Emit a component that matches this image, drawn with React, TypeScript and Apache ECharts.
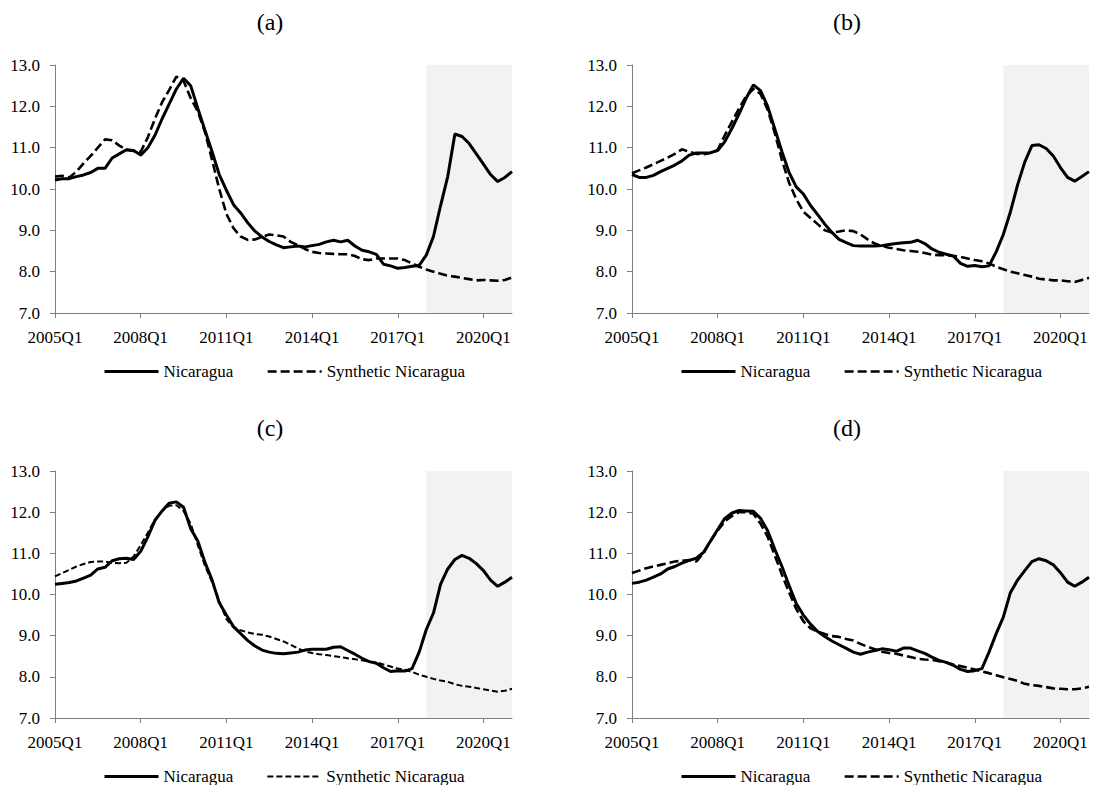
import React, { useEffect, useRef } from "react";
import * as echarts from "echarts";

// Quarter categories 2005Q1 .. 2021Q1
const QUARTERS: string[] = [];
for (let y = 2005; y <= 2021; y++) {
  for (let q = 1; q <= 4; q++) {
    if (y === 2021 && q > 1) break;
    QUARTERS.push(`${y}Q${q}`);
  }
}

const PANEL_TITLES = ["(a)", "(b)", "(c)", "(d)"];
const SHADE_FROM = "2018Q1";
const SHADE_TO = "2021Q1";
const Y_MIN = 7;
const Y_MAX = 13;

const nicA = [10.22, 10.25, 10.25, 10.3, 10.34, 10.4, 10.5, 10.5, 10.75, 10.85, 10.95, 10.93, 10.82, 11.0, 11.3, 11.7, 12.06, 12.42, 12.68, 12.5, 11.95, 11.42, 10.9, 10.35, 9.97, 9.62, 9.42, 9.18, 8.98, 8.84, 8.73, 8.65, 8.58, 8.6, 8.62, 8.6, 8.63, 8.66, 8.72, 8.76, 8.72, 8.76, 8.62, 8.52, 8.48, 8.42, 8.18, 8.14, 8.08, 8.1, 8.13, 8.15, 8.4, 8.85, 9.6, 10.3, 11.33, 11.27, 11.1, 10.85, 10.6, 10.35, 10.18, 10.28, 10.42];
const synA = [10.3, 10.32, 10.28, 10.42, 10.62, 10.8, 11.0, 11.2, 11.18, 11.05, 10.95, 10.92, 10.9, 11.25, 11.7, 12.1, 12.4, 12.72, 12.62, 12.2, 11.88, 11.38, 10.7, 10.0, 9.4, 9.05, 8.85, 8.77, 8.78, 8.84, 8.9, 8.88, 8.85, 8.72, 8.64, 8.55, 8.48, 8.45, 8.44, 8.43, 8.42, 8.42, 8.38, 8.3, 8.28, 8.32, 8.32, 8.32, 8.32, 8.28, 8.2, 8.12, 8.05, 8.0, 7.95, 7.9, 7.88, 7.85, 7.82, 7.79, 7.8, 7.79, 7.78, 7.8, 7.86];

const nicB = [10.35, 10.28, 10.28, 10.33, 10.42, 10.5, 10.58, 10.68, 10.82, 10.87, 10.87, 10.88, 10.93, 11.15, 11.47, 11.82, 12.2, 12.52, 12.38, 12.0, 11.45, 10.9, 10.4, 10.05, 9.88, 9.6, 9.38, 9.15, 8.95, 8.78, 8.7, 8.63, 8.62, 8.62, 8.62, 8.63, 8.66, 8.68, 8.7, 8.71, 8.76, 8.68, 8.55, 8.47, 8.42, 8.38, 8.2, 8.13, 8.15, 8.12, 8.14, 8.48, 8.9, 9.45, 10.1, 10.65, 11.05, 11.07, 10.98, 10.8, 10.52, 10.28, 10.19, 10.3, 10.42];
const synB = [10.38, 10.45, 10.52, 10.6, 10.68, 10.76, 10.85, 10.96, 10.9, 10.85, 10.84, 10.87, 10.95, 11.3, 11.63, 11.95, 12.25, 12.42, 12.3, 11.92, 11.35, 10.7, 10.15, 9.75, 9.45, 9.3, 9.15, 9.0, 8.95, 8.97, 9.0, 8.98, 8.9, 8.78, 8.68, 8.62, 8.58, 8.55, 8.52, 8.5, 8.48, 8.45, 8.41, 8.4, 8.4, 8.38, 8.36, 8.32, 8.28, 8.25, 8.2, 8.12, 8.06, 8.0, 7.96, 7.92, 7.88, 7.83, 7.81, 7.79, 7.79, 7.77, 7.75, 7.8, 7.85];

const nicC = [10.25, 10.27, 10.29, 10.33, 10.4, 10.47, 10.62, 10.66, 10.82, 10.87, 10.88, 10.85, 11.05, 11.4, 11.8, 12.03, 12.22, 12.25, 12.12, 11.6, 11.3, 10.78, 10.35, 9.8, 9.5, 9.22, 9.05, 8.88, 8.75, 8.65, 8.6, 8.57, 8.56, 8.58, 8.6, 8.65, 8.67, 8.67, 8.67, 8.72, 8.73, 8.64, 8.55, 8.45, 8.37, 8.33, 8.22, 8.13, 8.15, 8.14, 8.2, 8.6, 9.15, 9.55, 10.25, 10.62, 10.85, 10.95, 10.88, 10.75, 10.58, 10.35, 10.2, 10.3, 10.42];
const synC = [10.44, 10.52, 10.6, 10.68, 10.74, 10.79, 10.8, 10.8, 10.77, 10.76, 10.77, 10.92, 11.2, 11.5, 11.82, 12.03, 12.16, 12.17, 12.03, 11.72, 11.2, 10.7, 10.3, 9.85, 9.4, 9.2, 9.13, 9.08, 9.04, 9.02, 8.98, 8.92, 8.86, 8.78, 8.69, 8.62, 8.58, 8.55, 8.53, 8.5, 8.48, 8.45, 8.43, 8.4, 8.37, 8.35, 8.3, 8.25, 8.2, 8.17, 8.12, 8.05, 8.0, 7.95, 7.91, 7.88, 7.82, 7.78, 7.76, 7.73, 7.7, 7.67, 7.64, 7.66, 7.71];

const nicD = [10.27, 10.3, 10.35, 10.42, 10.5, 10.62, 10.68, 10.76, 10.83, 10.88, 11.02, 11.3, 11.58, 11.85, 11.98, 12.04, 12.03, 12.02, 11.85, 11.55, 11.1, 10.68, 10.22, 9.78, 9.5, 9.28, 9.1, 8.98, 8.87, 8.78, 8.69, 8.6, 8.55, 8.6, 8.64, 8.68, 8.66, 8.62, 8.7, 8.7, 8.63, 8.57, 8.48, 8.4, 8.35, 8.28, 8.18, 8.13, 8.15, 8.2, 8.6, 9.05, 9.45, 10.05, 10.35, 10.58, 10.8, 10.87, 10.82, 10.72, 10.53, 10.3, 10.2, 10.3, 10.42];
const synD = [10.52, 10.58, 10.64, 10.68, 10.72, 10.76, 10.8, 10.82, 10.84, 10.8, 11.0, 11.3, 11.55, 11.78, 11.91, 12.0, 12.0, 11.96, 11.72, 11.4, 10.95, 10.48, 10.05, 9.65, 9.35, 9.18, 9.1, 9.04, 8.99, 8.97, 8.92, 8.88, 8.8, 8.73, 8.67, 8.61, 8.58, 8.56, 8.52, 8.48, 8.44, 8.42, 8.41, 8.38, 8.35, 8.3, 8.26, 8.22, 8.18, 8.13, 8.09, 8.04, 7.99, 7.95, 7.9, 7.83, 7.8, 7.78, 7.75, 7.72, 7.71, 7.7, 7.7, 7.72, 7.76];

const ACTUAL = [nicA, nicB, nicC, nicD];
const SYNTH = [synA, synB, synC, synD];

const FONT = "Liberation Serif";

// layout of the four panels
const GRIDS = [
  { left: 55, top: 65, width: 457, height: 248 },
  { left: 632, top: 65, width: 457, height: 248 },
  { left: 55, top: 471, width: 457, height: 247 },
  { left: 632, top: 471, width: 457, height: 247 },
];
const DASH_STYLES = [
  { type: [9, 4], width: 2.6 },
  { type: [9, 4], width: 2.6 },
  { type: [6, 3], width: 2 },
  { type: [9, 4], width: 2.6 },
];

export default function App() {
  const ref = useRef<HTMLDivElement>(null);
  useEffect(() => {
    document.body.style.margin = "0";
    if (!ref.current) return;
    const chart = echarts.init(ref.current, undefined, { renderer: "svg" });
    const axisColor = "#7f7f7f";
    const option: any = {
      animation: false,
      backgroundColor: "#ffffff",
      textStyle: { fontFamily: FONT },
      title: GRIDS.map((g, i) => ({
        text: PANEL_TITLES[i],
        left: g.left + 215,
        top: g.top - 55,
        padding: 0,
        textAlign: "center",
        textStyle: { fontFamily: FONT, fontSize: 24, fontWeight: "normal", color: "#000" },
      })),
      grid: GRIDS.map((g) => ({ ...g, containLabel: false })),
      legend: GRIDS.map((g, i) => ({
        left: g.left + 43,
        top: g.top + g.height + 45,
        itemWidth: 54,
        itemHeight: 14,
        itemGap: 33,
        textStyle: { fontFamily: FONT, fontSize: 17, color: "#000" },
        data: [
          {
            name: "Nicaragua",
            itemStyle: { opacity: 0 },
            lineStyle: { color: "#000", width: 3, type: "solid" },
          },
          {
            name: "Synthetic Nicaragua",
            itemStyle: { opacity: 0 },
            lineStyle: { color: "#000", width: DASH_STYLES[i].width, type: DASH_STYLES[i].type },
          },
        ],
        selectedMode: false,
      })),
      xAxis: GRIDS.map((_, i) => ({
        type: "category",
        gridIndex: i,
        data: QUARTERS,
        boundaryGap: false,
        axisLine: { show: true, onZero: false, lineStyle: { color: axisColor, width: 1 } },
        axisTick: { show: true, interval: 11, length: 5, lineStyle: { color: axisColor } },
        axisLabel: { interval: 11, fontFamily: FONT, fontSize: 17, color: "#000", margin: 16 },
        splitLine: { show: false },
      })),
      yAxis: GRIDS.map((_, i) => ({
        type: "value",
        gridIndex: i,
        min: Y_MIN,
        max: Y_MAX,
        interval: 1,
        axisLine: { show: true, lineStyle: { color: axisColor, width: 1 } },
        axisTick: { show: true, length: 5, lineStyle: { color: axisColor } },
        axisLabel: {
          fontFamily: FONT,
          fontSize: 17,
          color: "#000",
          margin: 15,
          formatter: (v: number) => v.toFixed(1),
        },
        splitLine: { show: false },
      })),
      series: GRIDS.flatMap((_, i) => [
        {
          name: "Nicaragua",
          type: "line",
          xAxisIndex: i,
          yAxisIndex: i,
          data: ACTUAL[i],
          symbol: "none",
          z: 3,
          lineStyle: { color: "#000", width: 3, type: "solid" },
          itemStyle: { color: "#000" },
          markArea: {
            silent: true,
            itemStyle: { color: "#f2f2f2" },
            data: [[{ xAxis: SHADE_FROM }, { xAxis: SHADE_TO }]],
          },
        },
        {
          name: "Synthetic Nicaragua",
          type: "line",
          xAxisIndex: i,
          yAxisIndex: i,
          data: SYNTH[i],
          symbol: "none",
          z: 2,
          lineStyle: { color: "#000", width: DASH_STYLES[i].width, type: DASH_STYLES[i].type },
          itemStyle: { color: "#000" },
        },
      ]),
    };
    chart.setOption(option);
    return () => chart.dispose();
  }, []);
  return <div ref={ref} style={{ width: 1097, height: 785 }} />;
}
